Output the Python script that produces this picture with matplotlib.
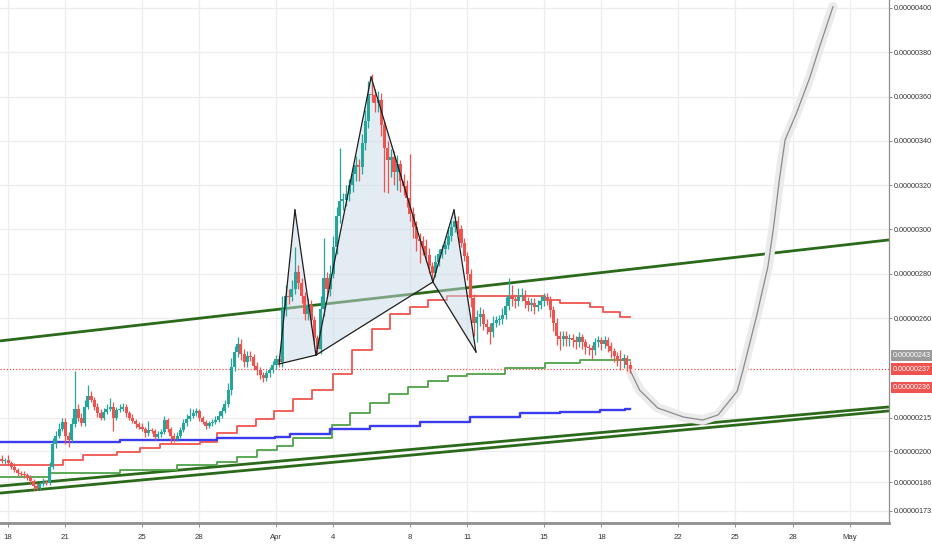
import matplotlib
matplotlib.use("Agg")
import matplotlib.pyplot as plt
import matplotlib.transforms as mtransforms
import numpy as np
import pandas as pd

# ---------------- data (prices in units of 1e-8) ----------------
first_open = 196.5
close = [
    195.5, 196, 194.5, 193, 191.5, 190, 189.5, 189, 188, 186.5,
    184, 183.3, 185, 185.8, 185.5, 193, 203, 207, 210, 213,
    207, 205, 212, 219, 215, 212.5, 220, 225, 223, 220,
    217, 215, 217.5, 219, 220, 215, 218.5, 219, 220, 217,
    215, 213.5, 212, 211, 210, 208, 209.5, 209, 206.5, 207.5,
    208.5, 214, 210, 207, 205.5, 207, 209.5, 212.5, 214.5, 216,
    217, 218, 215, 213, 211.5, 212.5, 213, 214, 216, 218,
    221, 227.5, 238, 244.5, 248.5, 244, 240, 243, 242.5, 238.5,
    236.5, 234.5, 233, 235, 236.5, 238.8, 241.5, 240, 264, 270,
    269.5, 273, 281, 276, 270, 262, 266, 259, 251, 246,
    264, 278, 273, 280, 292, 306, 313, 313.5, 316, 320,
    325, 329, 328, 339, 349, 361, 360.5, 357, 358.5, 347,
    337, 331.5, 332.5, 326, 329.5, 322, 319.5, 314, 307, 301,
    295.5, 295, 292.5, 288.5, 283.5, 280.5, 285.5, 289, 291, 293,
    297, 301, 304, 300, 294, 288, 280, 269, 258, 260.5,
    262, 257.5, 256, 253.5, 258, 259, 259.5, 261.5, 265.5, 270,
    268.5, 267.5, 269.5, 270.5, 267.5, 266, 267, 265, 266, 267.5,
    269.5, 268, 263.5, 258, 252, 250.5, 252, 250.5, 251, 250,
    249, 251.5, 249, 247, 246.5, 245.5, 249, 250, 248.5, 250,
    247.5, 245, 243, 241.5, 240.5, 242, 239, 237,
]
wick_up = [
    1.5, 1, 2, 1, 1.5, 1, 1, 1.5, 1, 1,
    1, 1.5, 1, 2, 1, 2, 3, 2, 2.5, 2,
    2, 1.5, 3, 17, 2, 2, 3, 5, 2, 1.5,
    1.5, 2, 2, 2, 4, 2, 1.5, 2, 1.5, 1,
    1, 1.5, 1, 1, 1.5, 1, 4, 1, 1, 1.5,
    1.5, 2, 1, 1, 1, 1.5, 1.5, 2, 2, 3.5,
    2, 1.5, 1, 1, 1, 1, 1.5, 2, 2, 2,
    2, 3, 4, 3, 3, 2, 2, 2, 2, 1.5,
    1.5, 1.5, 1, 1.5, 1.5, 2, 2, 2, 6, 5,
    3, 4, 11, 3, 2, 2, 3, 2, 2, 1.5,
    6, 18, 3, 4, 5, 4, 24, 3, 4, 3,
    3, 4, 3, 4, 5, 6, 9, 3, 4, 3,
    2, 3, 4, 3, 4, 2, 3, 3, 20, 3,
    3, 3, 2, 3, 3, 2, 3, 2, 2, 2,
    3, 3, 2, 2, 2, 2, 2, 2, 2, 3,
    3, 2, 2, 2, 3, 2, 2, 3, 4, 8,
    5, 2, 4, 3, 2, 2, 2, 2, 2, 3,
    2, 2, 2, 2, 2, 2, 2, 2, 2, 2,
    2, 2, 1.5, 1.5, 1.5, 1.5, 2, 2, 1.5, 2,
    1.5, 1.5, 1.5, 1.5, 4, 2, 1.5, 1.5,
]
wick_dn = [
    1, 1.5, 1, 1, 1, 1.5, 1, 1, 1, 1.5,
    1.5, 1, 1, 1, 1, 1, 1, 1.5, 1, 1,
    4, 3, 1, 1, 1.5, 1, 1, 1, 1, 1.5,
    1.5, 1, 1, 1, 1, 6, 1, 1, 1, 1.5,
    1, 1, 1.5, 1, 1, 1.5, 1, 1, 1.5, 1,
    1, 1, 1.5, 4, 1.5, 1, 1, 1, 1, 1,
    1, 1, 1.5, 1, 1.5, 1, 1, 1, 1, 1,
    1, 1, 2, 2, 2, 3, 2, 2, 2, 2,
    2, 2, 2, 1.5, 1.5, 1.5, 2, 2, 2, 3,
    3, 2, 2, 3, 3, 3, 3, 3, 3, 2,
    2, 3, 4, 3, 2, 3, 3, 4, 3, 3,
    3, 3, 6, 3, 3, 3, 3, 4, 4, 5,
    20, 15, 8, 6, 8, 5, 4, 4, 3, 5,
    5, 10, 4, 3, 3, 3, 2, 2, 2, 2,
    2, 2, 2, 2, 2, 2, 3, 4, 6, 9,
    4, 3, 3, 5, 2, 2, 2, 2, 2, 2,
    3, 3, 2, 2, 3, 3, 3, 3, 2, 2,
    2, 2, 3, 4, 4, 5, 3, 3, 3, 3,
    3, 2, 3, 3, 3, 4, 2, 2, 3, 2,
    3, 3, 3, 3, 4, 3, 3, 2,
]
candle_start = "2019-03-17 16:00"
candle_freq = "4h"
ref_day = "2019-03-18"

# step indicators: (start day, level)
red_days = [-0.42, 2.87, 3.92, 5.69, 6.9, 7.94, 10.03, 10.92, 11.96, 12.96, 13.9,
            14.89, 15.88, 16.98, 17.97, 19.02, 19.96, 21.0, 21.94, 22.94, 28.06,
            28.84, 30.41, 31.09, 31.97]
red_vals = [193.7, 195.9, 198.2, 199.5, 201.4, 203.2, 204.1, 208.1, 211.3, 214.4, 218.1,
            223.5, 227.5, 234.8, 245.6, 255.1, 261.9, 265.0, 268.2, 270.0, 268.2,
            266.8, 265.0, 262.8, 260.5]
green_days = [-0.42, 2.19, 5.85, 8.83, 10.92, 11.96, 13.01, 14.05, 14.89, 16.93, 17.87,
              18.91, 19.91, 20.9, 21.94, 22.99, 23.98, 25.97, 28.06, 29.89]
green_vals = [188.3, 190.1, 191.4, 193.7, 195.0, 197.3, 200.5, 202.3, 205.9, 211.7, 217.2,
              221.7, 225.7, 228.9, 231.6, 233.9, 234.8, 237.5, 239.7, 241.1]
blue_days = [-0.42, 5.85, 10.92, 13.95, 14.73, 16.82, 18.91, 21.53, 24.14, 26.75, 28.84,
             30.93, 32.24]
blue_vals = [204.1, 205.0, 205.9, 206.3, 207.7, 209.9, 211.3, 213.1, 215.3, 217.2, 217.6,
             218.5, 219.0]
steps_end = 32.5

# trend lines: (day0, val0, day1, val1)
trend_upper = (-0.42, 249.7, 46.03, 295.3)
trend_low1 = (-0.42, 184.2, 46.03, 219.9)
trend_low2 = (-0.42, 181.0, 46.03, 218.1)

# harmonic pattern points X A B C D E F
pat_days = [14.16, 14.99, 16.09, 18.97, 22.2, 23.3, 24.45]
pat_vals = [239.3, 308.8, 243.3, 368.8, 276.3, 308.8, 244.7]

# projected (ghost) path
ghost_days = [32.5, 33.0, 33.95, 35.3, 36.3, 37.1, 38.1, 38.4, 39.1, 39.7, 40.0, 40.3,
              40.6, 41.2, 41.9, 42.4, 43.1]
ghost_vals = [236.5, 227.5, 219.4, 215.3, 214.0, 216.3, 227.0, 236.5, 260.5, 283.1,
              301.1, 322.3, 340.4, 352.6, 368.8, 382.4, 400.5]

last_price = 237
badge_gray = 243
badge_red2 = 236

ytick_vals = [400, 380, 360, 340, 320, 300, 280, 260, 215, 200, 186, 173]
xtick_dates = ["2019-03-18", "2019-03-21", "2019-03-25", "2019-03-28", "2019-04-01",
               "2019-04-04", "2019-04-08", "2019-04-11", "2019-04-15", "2019-04-18",
               "2019-04-22", "2019-04-25", "2019-04-28", "2019-05-01"]
xtick_labels = ["18", "21", "25", "28", "Apr", "4", "8", "11", "15", "18", "22", "25",
                "28", "May"]

# ---------------- drawing ----------------
plt.rcParams["font.family"] = ["Liberation Sans", "DejaVu Sans"]
FS = 5.2

UP = "#26a69a"
DN = "#ef5350"

fig = plt.figure(figsize=(9.32, 5.5), dpi=100)
ax = fig.add_axes([0, 1 - 523 / 550, 889 / 932, 523 / 550])
ax.set_xlim(-0.42, 46.03)
ax.set_ylim(167.5, 403.6)

ref = pd.Timestamp(ref_day)
t = np.asarray((pd.date_range(candle_start, periods=len(close), freq=candle_freq) - ref)
               / pd.Timedelta(days=1))
c = np.array(close, dtype=float)
o = np.concatenate([[first_open], c[:-1]])
hi = np.maximum(o, c) + np.array(wick_up)
lo = np.minimum(o, c) - np.array(wick_dn)
cols = np.where(c >= o, UP, DN)

# grid / ticks
xt = np.asarray((pd.to_datetime(xtick_dates) - ref) / pd.Timedelta(days=1))
ax.set_xticks(xt)
ax.set_xticklabels(xtick_labels)
ax.set_yticks(ytick_vals)
ax.set_yticklabels([f"0.00000{v:03d}" for v in ytick_vals])
ax.grid(True, color="#ededf0", lw=0.9, zorder=0)
ax.set_axisbelow(True)

# trend lines
for (d0, v0, d1, v1) in (trend_upper, trend_low1, trend_low2):
    ax.plot([d0, d1], [v0, v1], color="#2b6a1a", lw=2.0, zorder=2, solid_capstyle="butt")

# step lines
def steps(days, vals, color, lw):
    ax.step(list(days) + [steps_end], list(vals) + [vals[-1]], where="post",
            color=color, lw=lw, zorder=3)

steps(red_days, red_vals, "#f05550", 1.3)
steps(green_days, green_vals, "#4fa349", 1.3)
steps(blue_days, blue_vals, "#3b3bef", 1.7)

# current price dotted line
ax.axhline(last_price, color="#ef5350", lw=0.9, ls=(0, (1, 1.5)), zorder=3)

# pattern fill
for k in (0, 2, 4):
    ax.fill(pat_days[k:k + 3], pat_vals[k:k + 3], facecolor="#c8dae6", alpha=0.5,
            edgecolor="none", zorder=4)

# ghost projection
ax.plot(ghost_days, ghost_vals, color="#ebebeb", lw=7, zorder=4, solid_capstyle="round",
        solid_joinstyle="round")
ax.plot(ghost_days, ghost_vals, color="#8a8a8a", lw=0.9, zorder=5)

# candles
ax.vlines(t, lo, hi, colors=cols, lw=0.9, zorder=5)
ax.bar(t, np.maximum(np.abs(c - o), 0.6), bottom=np.minimum(o, c), width=0.16,
       color=cols, lw=0, zorder=6)

# pattern lines
for a, b in [(0, 1), (1, 2), (0, 2), (2, 3), (3, 4), (2, 4), (4, 5), (5, 6), (4, 6)]:
    ax.plot([pat_days[a], pat_days[b]], [pat_vals[a], pat_vals[b]], color="#1e1e1e",
            lw=0.9, zorder=7)

# axes styling
for s in ("top", "left"):
    ax.spines[s].set_visible(False)
ax.spines["right"].set_color("#8f8f8f")
ax.spines["right"].set_linewidth(0.9)
ax.spines["bottom"].set_color("#8f8f8f")
ax.spines["bottom"].set_linewidth(2.0)
ax.yaxis.tick_right()
ax.tick_params(axis="y", direction="out", length=2.5, width=0.7, color="#8f8f8f",
               labelsize=FS, labelcolor="#333333", pad=1.2)
ax.tick_params(axis="x", direction="out", length=3, width=0.7, color="#8f8f8f",
               labelsize=FS + 0.4, labelcolor="#333333", pad=5)

# price badges
trans = mtransforms.blended_transform_factory(ax.transAxes, ax.transData)
def badge(val, fc, dy=0):
    tr = mtransforms.offset_copy(trans, fig=fig, x=0, y=dy, units="dots")
    ax.text(1.0045, val, f"0.00000{val:03d}", transform=tr, ha="left", va="center",
            fontsize=FS, color="white", clip_on=False, zorder=10,
            bbox=dict(boxstyle="square,pad=0.3", fc=fc, ec="none"))

badge(badge_gray, "#9b9b9b")
badge(last_price, "#ef5350")
badge(badge_red2, "#ef5350", dy=-16)

fig.savefig("out.png", dpi=100)
